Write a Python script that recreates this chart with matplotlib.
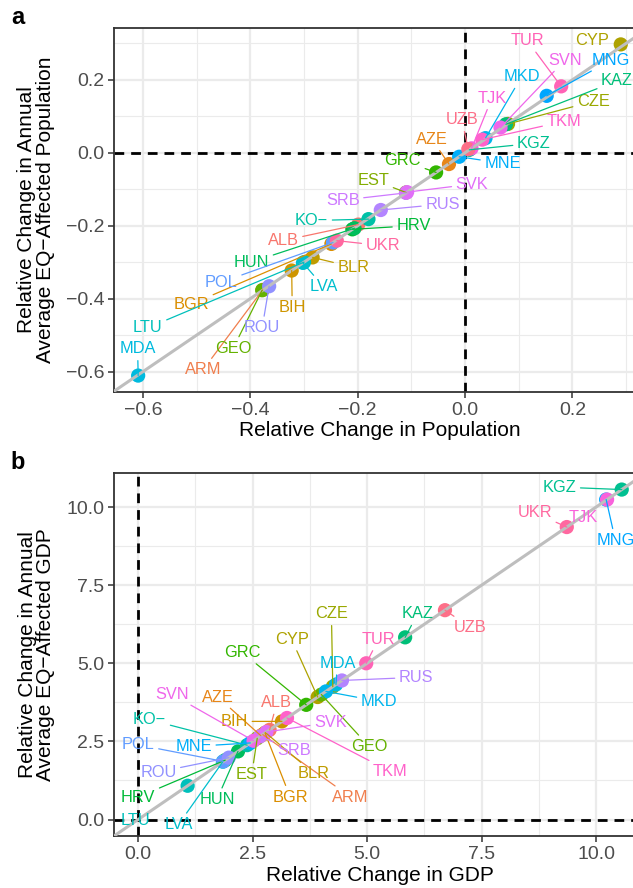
import numpy as np
import matplotlib.pyplot as plt
from matplotlib.ticker import MultipleLocator, FuncFormatter

plt.rcParams['font.family'] = ['Liberation Sans', 'DejaVu Sans']

# countries in legend order (alphabetical -> ggplot hue palette)
countries = ["ALB", "ARM", "AZE", "BGR", "BIH", "BLR", "CYP", "CZE", "EST", "GEO",
             "GRC", "HRV", "HUN", "KAZ", "KGZ", "KO−", "LTU", "LVA", "MDA", "MKD",
             "MNE", "MNG", "POL", "ROU", "RUS", "SRB", "SVK", "SVN", "TJK", "TKM",
             "TUR", "UKR", "UZB"]

# panel a: relative change in population vs EQ-affected population
pop_x = [-0.199, -0.377, -0.030, -0.249, -0.323, -0.284, 0.290, 0.080, -0.110, -0.378,
         -0.054, -0.210, -0.206, 0.076, 0.008, -0.180, -0.300, -0.302, -0.609, 0.038,
         -0.011, 0.152, -0.246, -0.365, -0.157, -0.110, -0.108, 0.066, 0.012, 0.032,
         0.179, -0.239, 0.006]
pop_y = [-0.197, -0.376, -0.031, -0.250, -0.323, -0.287, 0.297, 0.079, -0.109, -0.377,
         -0.054, -0.210, -0.207, 0.078, 0.008, -0.182, -0.300, -0.302, -0.611, 0.040,
         -0.011, 0.156, -0.246, -0.366, -0.157, -0.110, -0.108, 0.069, 0.012, 0.036,
         0.182, -0.241, 0.010]

# panel b: relative change in GDP vs EQ-affected GDP
gdp_x = [2.87, 2.72, 2.68, 2.77, 3.14, 2.78, 3.92, 4.25, 2.60, 4.00,
         3.67, 1.90, 2.18, 5.83, 10.56, 2.38, 1.08, 1.85, 4.32, 4.10,
         2.45, 10.22, 1.86, 1.98, 4.45, 2.66, 2.80, 2.52, 10.24, 3.25,
         4.98, 9.36, 6.70]
gdp_y = [2.87, 2.72, 2.68, 2.77, 3.14, 2.78, 3.92, 4.25, 2.60, 4.00,
         3.67, 1.90, 2.18, 5.83, 10.56, 2.38, 1.08, 1.85, 4.32, 4.10,
         2.45, 10.24, 1.86, 1.98, 4.45, 2.66, 2.80, 2.52, 10.24, 3.25,
         5.00, 9.36, 6.70]

# repelled label positions (layout)
lab_pop = {"TUR": (0.116, 0.307), "CYP": (0.236, 0.307), "SVN": (0.186, 0.254),
           "MNG": (0.272, 0.254), "MKD": (0.105, 0.208), "KAZ": (0.283, 0.197),
           "TJK": (0.050, 0.150), "CZE": (0.239, 0.141), "UZB": (-0.006, 0.090),
           "TKM": (0.184, 0.086), "AZE": (-0.062, 0.037), "KGZ": (0.128, 0.026),
           "GRC": (-0.116, -0.022), "MNE": (0.070, -0.029), "SVK": (0.013, -0.086),
           "EST": (-0.171, -0.075), "SRB": (-0.228, -0.130), "RUS": (-0.042, -0.141),
           "KO−": (-0.286, -0.186), "HRV": (-0.096, -0.200), "ALB": (-0.339, -0.241),
           "UKR": (-0.153, -0.255), "HUN": (-0.398, -0.300), "BLR": (-0.208, -0.314),
           "LVA": (-0.264, -0.367), "POL": (-0.454, -0.355), "BGR": (-0.510, -0.415),
           "BIH": (-0.322, -0.424), "LTU": (-0.591, -0.480), "ROU": (-0.378, -0.480),
           "MDA": (-0.610, -0.538), "GEO": (-0.432, -0.536), "ARM": (-0.488, -0.595)}
lab_gdp = {"KGZ": (9.20, 10.64), "UKR": (8.66, 9.82), "TJK": (9.72, 9.68),
           "MNG": (10.42, 8.94), "CZE": (4.22, 6.58), "KAZ": (6.10, 6.58),
           "UZB": (7.25, 6.15), "CYP": (3.35, 5.77), "TUR": (5.25, 5.77),
           "MDA": (4.35, 5.00), "RUS": (6.07, 4.55), "MKD": (5.26, 3.78),
           "SVK": (4.20, 3.11), "GEO": (5.04, 2.34), "SRB": (3.40, 2.21),
           "TKM": (5.50, 1.54), "BLR": (3.84, 1.47), "ARM": (4.64, 0.72),
           "BGR": (3.32, 0.72), "EST": (2.48, 1.44), "GRC": (2.28, 5.34),
           "SVN": (0.73, 4.01), "AZE": (1.74, 3.92), "ALB": (3.03, 3.74),
           "BIH": (2.10, 3.14), "KO−": (0.25, 3.19), "POL": (0.00, 2.39),
           "MNE": (1.21, 2.34), "ROU": (0.44, 1.52), "HRV": (0.00, 0.72),
           "HUN": (1.72, 0.64), "LTU": (-0.07, -0.02), "LVA": (0.88, -0.16)}


def hue_colour(h, c=100.0, l=65.0):
    # polar LUV -> sRGB, like R's hcl()
    hr = np.deg2rad(h)
    u, v = c * np.cos(hr), c * np.sin(hr)
    xn, yn, zn = 95.047, 100.0, 108.883
    d = xn + 15 * yn + 3 * zn
    un, vn = 4 * xn / d, 9 * yn / d
    Y = yn * ((l + 16) / 116) ** 3
    up, vp = u / (13 * l) + un, v / (13 * l) + vn
    X = Y * 9 * up / (4 * vp)
    Z = Y * (12 - 3 * up - 20 * vp) / (4 * vp)
    M = np.array([[3.240479, -1.537150, -0.498535],
                  [-0.969256, 1.875992, 0.041556],
                  [0.055648, -0.204043, 1.057311]])
    rgb = np.clip(M @ (np.array([X, Y, Z]) / 100), 0, 1)
    rgb = np.where(rgb <= 0.0031308, 12.92 * rgb, 1.055 * rgb ** (1 / 2.4) - 0.055)
    return tuple(np.clip(rgb, 0, 1))


n = len(countries)
hues = np.linspace(15, 375, n + 1)[:n]
colours = [hue_colour(h) for h in hues]

fmt = FuncFormatter(lambda v, p: f'{v:.1f}'.replace('-', '\u2212'))


def style_axes(ax, major, minor):
    ax.set_facecolor('white')
    for s in ax.spines.values():
        s.set_color('#333333')
        s.set_linewidth(1.3)
    ax.xaxis.set_major_locator(MultipleLocator(major))
    ax.yaxis.set_major_locator(MultipleLocator(major))
    ax.xaxis.set_minor_locator(MultipleLocator(minor))
    ax.yaxis.set_minor_locator(MultipleLocator(minor))
    ax.xaxis.set_major_formatter(fmt)
    ax.yaxis.set_major_formatter(fmt)
    ax.grid(which='major', color='#EBEBEB', lw=1.6, zorder=0)
    ax.grid(which='minor', color='#EBEBEB', lw=0.8, zorder=0)
    ax.set_axisbelow(True)
    ax.tick_params(which='major', direction='out', length=4, width=1.1,
                   color='#333333', labelcolor='#4D4D4D', labelsize=14, pad=3)
    ax.tick_params(which='minor', length=0)


def draw_panel(ax, xs, ys, labpos, no_seg):
    ax.axhline(0, color='black', lw=2.0, dashes=(3.5, 2.5), zorder=1)
    ax.axvline(0, color='black', lw=2.0, dashes=(3.5, 2.5), zorder=1)
    ax.scatter(xs, ys, c=colours, s=105, linewidths=0, zorder=2)
    ax.axline((0, 0), slope=1, color='#BEBEBE', lw=2.2, zorder=3)
    for i, name in enumerate(countries):
        props = None
        if name not in no_seg:
            props = dict(arrowstyle='-', color=colours[i], lw=0.9,
                         shrinkA=1, shrinkB=0)
        ax.annotate(name, xy=(xs[i], ys[i]), xytext=labpos[name],
                    ha='center', va='center', color=colours[i], fontsize=11.8,
                    arrowprops=props, zorder=5)


fig = plt.figure(figsize=(6.33, 8.88), dpi=100)

ax_a = fig.add_axes([114 / 633, 1 - 392 / 888, 532 / 633, 364 / 888])
style_axes(ax_a, 0.2, 0.1)
draw_panel(ax_a, pop_x, pop_y, lab_pop, {"CYP"})
ax_a.set_xlim(-0.654, 0.337)
ax_a.set_ylim(-0.656, 0.342)
ax_a.set_xlabel('Relative Change in Population', fontsize=15, labelpad=2)
ax_a.set_ylabel('Relative Change in Annual\nAverage EQ−Affected Population',
                fontsize=15, linespacing=0.95, labelpad=8)

ax_b = fig.add_axes([114 / 633, 1 - 836 / 888, 532 / 633, 363 / 888])
style_axes(ax_b, 2.5, 1.25)
draw_panel(ax_b, gdp_x, gdp_y, lab_gdp, {"LTU", "TJK"})
ax_b.set_xlim(-0.528, 11.09)
ax_b.set_ylim(-0.528, 11.09)
ax_b.set_xlabel('Relative Change in GDP', fontsize=15, labelpad=2)
ax_b.set_ylabel('Relative Change in Annual\nAverage EQ−Affected GDP',
                fontsize=15, linespacing=0.95, labelpad=8)

fig.text(0.028, 1 - 18 / 888, 'a', fontsize=17, fontweight='bold', ha='center', va='center')
fig.text(0.028, 1 - 462 / 888, 'b', fontsize=17, fontweight='bold', ha='center', va='center')

fig.savefig('out.png', dpi=100)
